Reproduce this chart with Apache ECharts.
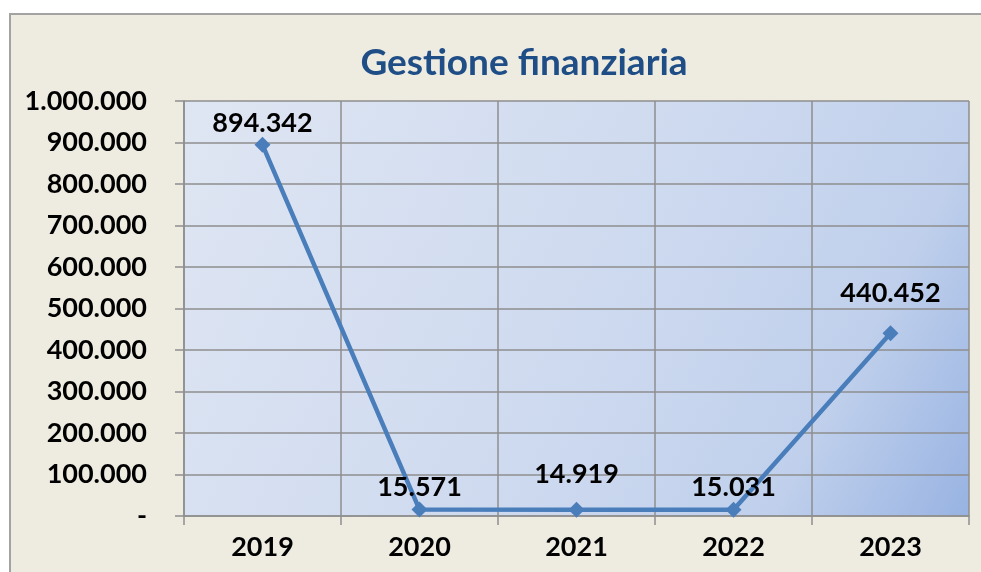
<!DOCTYPE html>
<html>
<head>
<meta charset="utf-8">
<script src="https://cdn.jsdelivr.net/npm/echarts@6/dist/echarts.min.js"></script>
<style>
  html, body { margin: 0; padding: 0; background: #ffffff; }
  #chart { width: 981px; height: 572px; }
</style>
</head>
<body>
<div id="chart"></div>
<script>
const years = ['2019', '2020', '2021', '2022', '2023']
const values = [894342, 15571, 14919, 15031, 440452]
// how far each value label sits above its point, as in the original
const labelGap = [0, 1, 14, 1, 18]
const yMin = 0
const yMax = 1000000
const yStep = 100000

function fmt (v) {
  if (v === 0) return '-'
  return String(Math.round(v)).replace(/\B(?=(\d{3})+(?!\d))/g, '.')
}

const chart = echarts.init(document.getElementById('chart'))
const gridColor = '#8e8e8e'
const font = 'Lato, "Open Sans", sans-serif'

chart.setOption({
  animation: false,
  graphic: [{
    type: 'rect',
    z: -10,
    shape: { x: 10, y: 14, width: 1000, height: 600 },
    style: { fill: '#eeebe0', stroke: '#a3a3a3', lineWidth: 2 }
  }],
  title: {
    text: 'Gestione finanziaria',
    left: 519,
    top: 40,
    textAlign: 'center',
    textStyle: { color: '#1f4e87', fontSize: 37, fontWeight: 'bold', fontFamily: font }
  },
  grid: {
    left: 184, top: 101, right: 12, bottom: 56,
    show: true,
    borderWidth: 0,
    backgroundColor: new echarts.graphic.LinearGradient(0, 0, 1, 1, [
      { offset: 0, color: '#dfe6f3' },
      { offset: 0.55, color: '#cdd9ef' },
      { offset: 0.8, color: '#c0d0ec' },
      { offset: 1, color: '#98b3e2' }
    ])
  },
  xAxis: {
    type: 'category',
    data: years,
    boundaryGap: true,
    axisLine: { lineStyle: { color: gridColor, width: 1.5 } },
    axisTick: { show: true, length: 9, lineStyle: { color: gridColor, width: 1.5 } },
    splitLine: { show: true, lineStyle: { color: gridColor, width: 1.5 } },
    axisLabel: { color: '#000', fontSize: 27, fontWeight: 'bold', fontFamily: font, margin: 18 }
  },
  yAxis: {
    type: 'value',
    min: yMin,
    max: yMax,
    interval: yStep,
    axisLine: { show: true, lineStyle: { color: gridColor, width: 1.5 } },
    axisTick: { show: true, length: 9, lineStyle: { color: gridColor, width: 1.5 } },
    splitLine: { show: true, lineStyle: { color: gridColor, width: 1.5 } },
    axisLabel: { color: '#000', fontSize: 27, fontWeight: 'bold', fontFamily: font, margin: 37, formatter: fmt }
  },
  series: [{
    type: 'line',
    data: values.map((v, i) => ({ value: v, label: { distance: labelGap[i] } })),
    symbol: 'diamond',
    symbolSize: 16,
    lineStyle: { color: '#4a7ebb', width: 4.5 },
    itemStyle: { color: '#4a7ebb' },
    label: {
      show: true,
      position: 'top',
      color: '#000',
      fontSize: 27,
      fontWeight: 'bold',
      fontFamily: font,
      formatter: p => fmt(p.value)
    }
  }]
})
</script>
</body>
</html>
